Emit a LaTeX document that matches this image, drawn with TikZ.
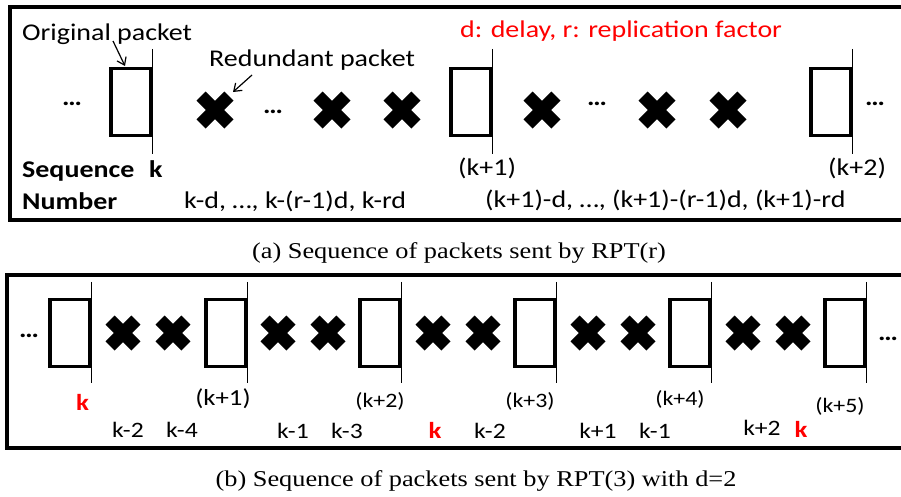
\documentclass[tikz,border=0pt]{standalone}
\usepackage{fontspec}
\setmainfont{Carlito}[FakeStretch=1.165]
\newfontfamily\capfont{Liberation Serif}[FakeStretch=1.165]
\usetikzlibrary{arrows.meta}
\definecolor{pred}{RGB}{255,0,0}
\begin{document}
\begin{tikzpicture}[x=1pt,y=-1pt,
  panelframe/.style={draw, line width=3.2pt},
  pbox/.style={draw, line width=3.2pt, minimum width=40pt, minimum height=67pt, inner sep=0pt},
  seqtick/.style={line width=1.4pt},
  xmark/.style={minimum size=#1pt, inner sep=0pt, path picture={
      \pgfmathsetmacro{\xa}{#1/2-4.6}
      \draw[line width=13pt, line cap=butt]
        ([shift={(-\xa pt,-\xa pt)}]path picture bounding box.center) --
        ([shift={(\xa pt,\xa pt)}]path picture bounding box.center);
      \draw[line width=13pt, line cap=butt]
        ([shift={(-\xa pt,\xa pt)}]path picture bounding box.center) --
        ([shift={(\xa pt,-\xa pt)}]path picture bounding box.center);}},
  xmark/.default=37,
  lab/.style={inner sep=0pt, anchor=base west, font=\fontsize{24}{28}\selectfont},
  blab/.style={inner sep=0pt, anchor=base, font=\fontsize{#1}{26}\selectfont},
  blab/.default=22,
  dotstxt/.style={inner sep=0pt, anchor=base, font=\fontsize{24}{28}\selectfont\bfseries},
  captxt/.style={inner sep=0pt, anchor=base, font=\capfont\fontsize{22.6}{26}\selectfont},
  arr/.style={line width=1.2pt, -{Straight Barb[length=7pt,width=10pt]}}
]
\useasboundingbox (0,0) rectangle (901,496);
\clip (0,0) rectangle (901,496);
\fill[white] (0,0) rectangle (901,496);

% ---------- panel (a) ----------
\draw[panelframe] (10,7) rectangle (912,220);

\node[lab] (orig) at (22,40) {Original packet};
\node[lab] (redu) at (209,66) {Redundant packet};
\node[lab, text=pred] (legend) at (460,37) {d: delay, r: replication factor};

\node[dotstxt] (d1) at (72,105) {…};
\node[pbox] (a1) at (131,102) {};
\draw[seqtick] ([yshift=18pt]a1.north east) -- ([yshift=-17pt]a1.south east);
\node[xmark] (ax1) at (215,110) {};
\node[dotstxt] (d2) at (273,113) {…};
\node[xmark] (ax2) at (332,110) {};
\node[xmark] (ax3) at (402,110) {};
\node[pbox] (a2) at (471,102) {};
\draw[seqtick] ([yshift=18pt]a2.north east) -- ([yshift=-17pt]a2.south east);
\node[xmark] (ax4) at (542,110) {};
\node[dotstxt] (d3) at (597,105) {…};
\node[xmark] (ax5) at (657,110) {};
\node[xmark] (ax6) at (728,110) {};
\node[pbox] (a3) at (831,102) {};
\draw[seqtick] ([yshift=18pt]a3.north east) -- ([yshift=-17pt]a3.south east);
\node[dotstxt] (d4) at (875,105) {…};

\coordinate (oarrS) at (113,41);
\coordinate (oarrE) at (125,66);
\draw[arr] (oarrS) -- (oarrE);
\coordinate (rarrS) at (252,75);
\coordinate (rarrE) at (233,92);
\draw[arr] (rarrS) -- (rarrE);

\node[lab, font=\fontsize{24}{28}\selectfont\bfseries] (seq) at (22,177) {Sequence};
\node[lab, font=\fontsize{24}{28}\selectfont\bfseries] (ka) at (149,177) {k};
\node[lab, font=\fontsize{24}{28}\selectfont\bfseries] (num) at (22,209) {Number};
\node[lab] (s1) at (184,208) {k-d, …, k-(r-1)d, k-rd};
\node[lab] (k1a) at (458,175) {(k+1)};
\node[lab] (k2a) at (828,175) {(k+2)};
\node[lab] (s2) at (485,207) {(k+1)-d, …, (k+1)-(r-1)d, (k+1)-rd};

\node[captxt] (capa) at (459,258) {(a) Sequence of packets sent by RPT(r)};

% ---------- panel (b) ----------
\draw[panelframe] (7,275) rectangle (912,448);

\node[dotstxt] (e1) at (29,337) {…};
\foreach \i/\x in {1/70,2/226,3/380,4/535,5/690,6/845}{
  \node[pbox] (b\i) at (\x,333) {};
  \draw[seqtick] ([yshift=16pt]b\i.north east) -- ([yshift=-15pt]b\i.south east);
}
\foreach \i/\x in {1/123,2/173,3/278,4/328,5/433,6/483,7/588,8/638,9/743,10/793}{
  \node[xmark=35] (bx\i) at (\x,333) {};
}
\node[dotstxt] (e2) at (888,340) {…};

\node[blab=23, text=pred, font=\fontsize{23}{26}\selectfont\bfseries] (rk1) at (82.5,410) {k};
\node[blab=23] (k1b) at (223,405) {(k+1)};
\node[blab=20.5] (k2b) at (380,407) {(k+2)};
\node[blab=20.5] (k3b) at (530,407) {(k+3)};
\node[blab=20.5] (k4b) at (680,405) {(k+4)};
\node[blab=20.5] (k5b) at (840,412) {(k+5)};

\node[blab] (l1) at (128,437) {k-2};
\node[blab] (l2) at (182,437) {k-4};
\node[blab] (l3) at (293,438) {k-1};
\node[blab] (l4) at (347,438) {k-3};
\node[blab=23, text=pred, font=\fontsize{23}{26}\selectfont\bfseries] (rk2) at (435,438) {k};
\node[blab] (l5) at (490,438) {k-2};
\node[blab] (l6) at (598,438) {k+1};
\node[blab] (l7) at (655,438) {k-1};
\node[blab] (l8) at (762,435) {k+2};
\node[blab=23, text=pred, font=\fontsize{23}{26}\selectfont\bfseries] (rk3) at (801,437) {k};

\node[captxt] (capb) at (476,486) {(b) Sequence of packets sent by RPT(3) with d=2};
\end{tikzpicture}
\end{document}
